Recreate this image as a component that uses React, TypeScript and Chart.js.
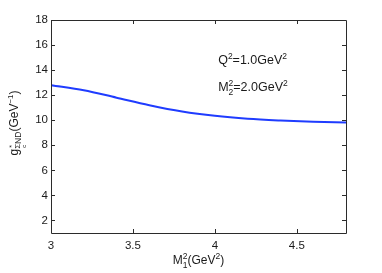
import React, { useEffect, useRef } from "react";
import { Chart, registerables } from "chart.js";

Chart.register(...registerables);

const xValues = [3.0, 3.2, 3.4, 3.6, 3.8, 4.0, 4.2, 4.4, 4.6, 4.8];
const gValues = [12.8, 12.4, 11.8, 11.2, 10.7, 10.35, 10.12, 9.98, 9.88, 9.81];
const xTicks = [3, 3.5, 4, 4.5];
const yTicks = [2, 4, 6, 8, 10, 12, 14, 16, 18];

const FONT = "'Liberation Sans', Arial, Helvetica, sans-serif";
type Seg = { t: string; s: number; dy: number; stackTop?: string; stackBot?: string };

function segWidth(ctx: CanvasRenderingContext2D, seg: Seg) {
  ctx.font = `${seg.s}px ${FONT}`;
  let w = ctx.measureText(seg.t).width;
  if (seg.stackTop || seg.stackBot) {
    const w1 = seg.stackTop ? ctx.measureText(seg.stackTop).width : 0;
    const w2 = seg.stackBot ? ctx.measureText(seg.stackBot).width : 0;
    w = Math.max(w, w1, w2);
  }
  return w;
}

function drawSegs(ctx: CanvasRenderingContext2D, segs: Seg[], x: number, y: number, align: "left" | "center") {
  let total = 0;
  for (const s of segs) total += segWidth(ctx, s);
  let cx = align === "center" ? x - total / 2 : x;
  ctx.textAlign = "left";
  ctx.textBaseline = "alphabetic";
  for (const s of segs) {
    ctx.font = `${s.s}px ${FONT}`;
    const w = segWidth(ctx, s);
    if (s.t) ctx.fillText(s.t, cx, y + s.dy);
    if (s.stackTop) ctx.fillText(s.stackTop, cx, y - 5);
    if (s.stackBot) ctx.fillText(s.stackBot, cx, y + 4);
    cx += w;
  }
  return align === "center" ? x - total / 2 : x;
}

const framePlugin = {
  id: "frame",
  afterDraw(chart: any) {
    const ctx: CanvasRenderingContext2D = chart.ctx;
    const { left, right, top, bottom } = chart.chartArea;
    const xs = chart.scales.x;
    const ys = chart.scales.y;
    ctx.save();
    ctx.strokeStyle = "#2b2b2b";
    ctx.lineWidth = 1;
    ctx.beginPath();
    ctx.rect(Math.round(left) + 0.5, Math.round(top) + 0.5, Math.round(right - left), Math.round(bottom - top));
    ctx.stroke();
    ctx.beginPath();
    const tl = 4;
    for (const v of xTicks) {
      const px = Math.round(xs.getPixelForValue(v)) + 0.5;
      ctx.moveTo(px, bottom);
      ctx.lineTo(px, bottom - tl);
      ctx.moveTo(px, top);
      ctx.lineTo(px, top + tl);
    }
    for (const v of yTicks) {
      const py = Math.round(ys.getPixelForValue(v)) + 0.5;
      ctx.moveTo(left, py);
      ctx.lineTo(left + tl, py);
      ctx.moveTo(right, py);
      ctx.lineTo(right - tl, py);
    }
    ctx.stroke();

    ctx.fillStyle = "#1a1a1a";
    // annotations
    const ax = xs.getPixelForValue(4.02);
    drawSegs(ctx, [
      { t: "Q", s: 12.5, dy: 0 },
      { t: "2", s: 8.5, dy: -5 },
      { t: "=1.0GeV", s: 12.5, dy: 0 },
      { t: "2", s: 8.5, dy: -5 },
    ], ax, ys.getPixelForValue(14.45), "left");
    drawSegs(ctx, [
      { t: "M", s: 12.5, dy: 0 },
      { t: "", s: 8.5, dy: 0, stackTop: "2", stackBot: "2" },
      { t: "=2.0GeV", s: 12.5, dy: 0 },
      { t: "2", s: 8.5, dy: -5 },
    ], ax, ys.getPixelForValue(12.3), "left");

    // x title
    drawSegs(ctx, [
      { t: "M", s: 12, dy: 0 },
      { t: "", s: 8.5, dy: 0, stackTop: "2", stackBot: "1" },
      { t: "(GeV", s: 12, dy: 0 },
      { t: "2", s: 8.5, dy: -5 },
      { t: ")", s: 12, dy: 0 },
    ], (left + right) / 2, 264, "center");

    // y title rotated
    ctx.save();
    ctx.translate(17.5, 123);
    ctx.rotate(-Math.PI / 2);
    const start = drawSegs(ctx, [
      { t: "g", s: 12, dy: 0 },
      { t: "Σ", s: 8, dy: 2 },
      { t: "ND", s: 8.5, dy: 3 },
      { t: "(GeV", s: 12, dy: 0 },
      { t: "−1", s: 8, dy: -5 },
      { t: ")", s: 12, dy: 0 },
    ], 0, 0, "center");
    ctx.font = `12px ${FONT}`;
    const gW = ctx.measureText("g").width;
    const sx = start + gW;
    ctx.font = `7px ${FONT}`;
    ctx.fillText("*", sx + 1, -4);
    ctx.font = `6px ${FONT}`;
    ctx.fillText("c", sx + 1, 8);
    ctx.restore();

    ctx.restore();
  },
};

export default function App() {
  const ref = useRef<HTMLCanvasElement>(null);
  useEffect(() => {
    if (!ref.current) return;
    const chart = new Chart(ref.current, {
      type: "line",
      data: {
        datasets: [
          {
            data: xValues.map((x, i) => ({ x, y: gValues[i] })),
            borderColor: "#1f3cff",
            borderWidth: 2,
            pointRadius: 0,
            cubicInterpolationMode: "monotone",
            fill: false,
          },
        ],
      },
      options: {
        animation: false,
        responsive: false,
        events: [],
        layout: { padding: { top: 20, right: 36, left: 0, bottom: 0 } },
        plugins: { legend: { display: false }, tooltip: { enabled: false } },
        scales: {
          x: {
            type: "linear",
            min: 3,
            max: 4.8,
            afterBuildTicks: (s: any) => {
              s.ticks = xTicks.map((v) => ({ value: v }));
            },
            afterFit: (s: any) => {
              s.height = 40;
            },
            grid: { display: false, drawTicks: false },
            border: { display: false },
            ticks: {
              color: "#1a1a1a",
              font: { family: FONT, size: 11.5 },
              padding: 6,
              maxRotation: 0,
              autoSkip: false,
              callback: (v: any) => String(v),
            },
          },
          y: {
            type: "linear",
            min: 1,
            max: 18,
            afterBuildTicks: (s: any) => {
              s.ticks = yTicks.map((v) => ({ value: v }));
            },
            afterFit: (s: any) => {
              s.width = 51;
            },
            grid: { display: false, drawTicks: false },
            border: { display: false },
            ticks: {
              color: "#1a1a1a",
              font: { family: FONT, size: 11.5 },
              padding: 3,
              autoSkip: false,
              callback: (v: any) => String(v),
            },
          },
        },
      },
      plugins: [framePlugin],
    } as any);
    return () => chart.destroy();
  }, []);
  return (
    <div style={{ position: "fixed", left: 0, top: 0, width: 382, height: 273, background: "#fff" }}>
      <canvas ref={ref} width={382} height={273} style={{ width: 382, height: 273, display: "block" }} />
    </div>
  );
}
